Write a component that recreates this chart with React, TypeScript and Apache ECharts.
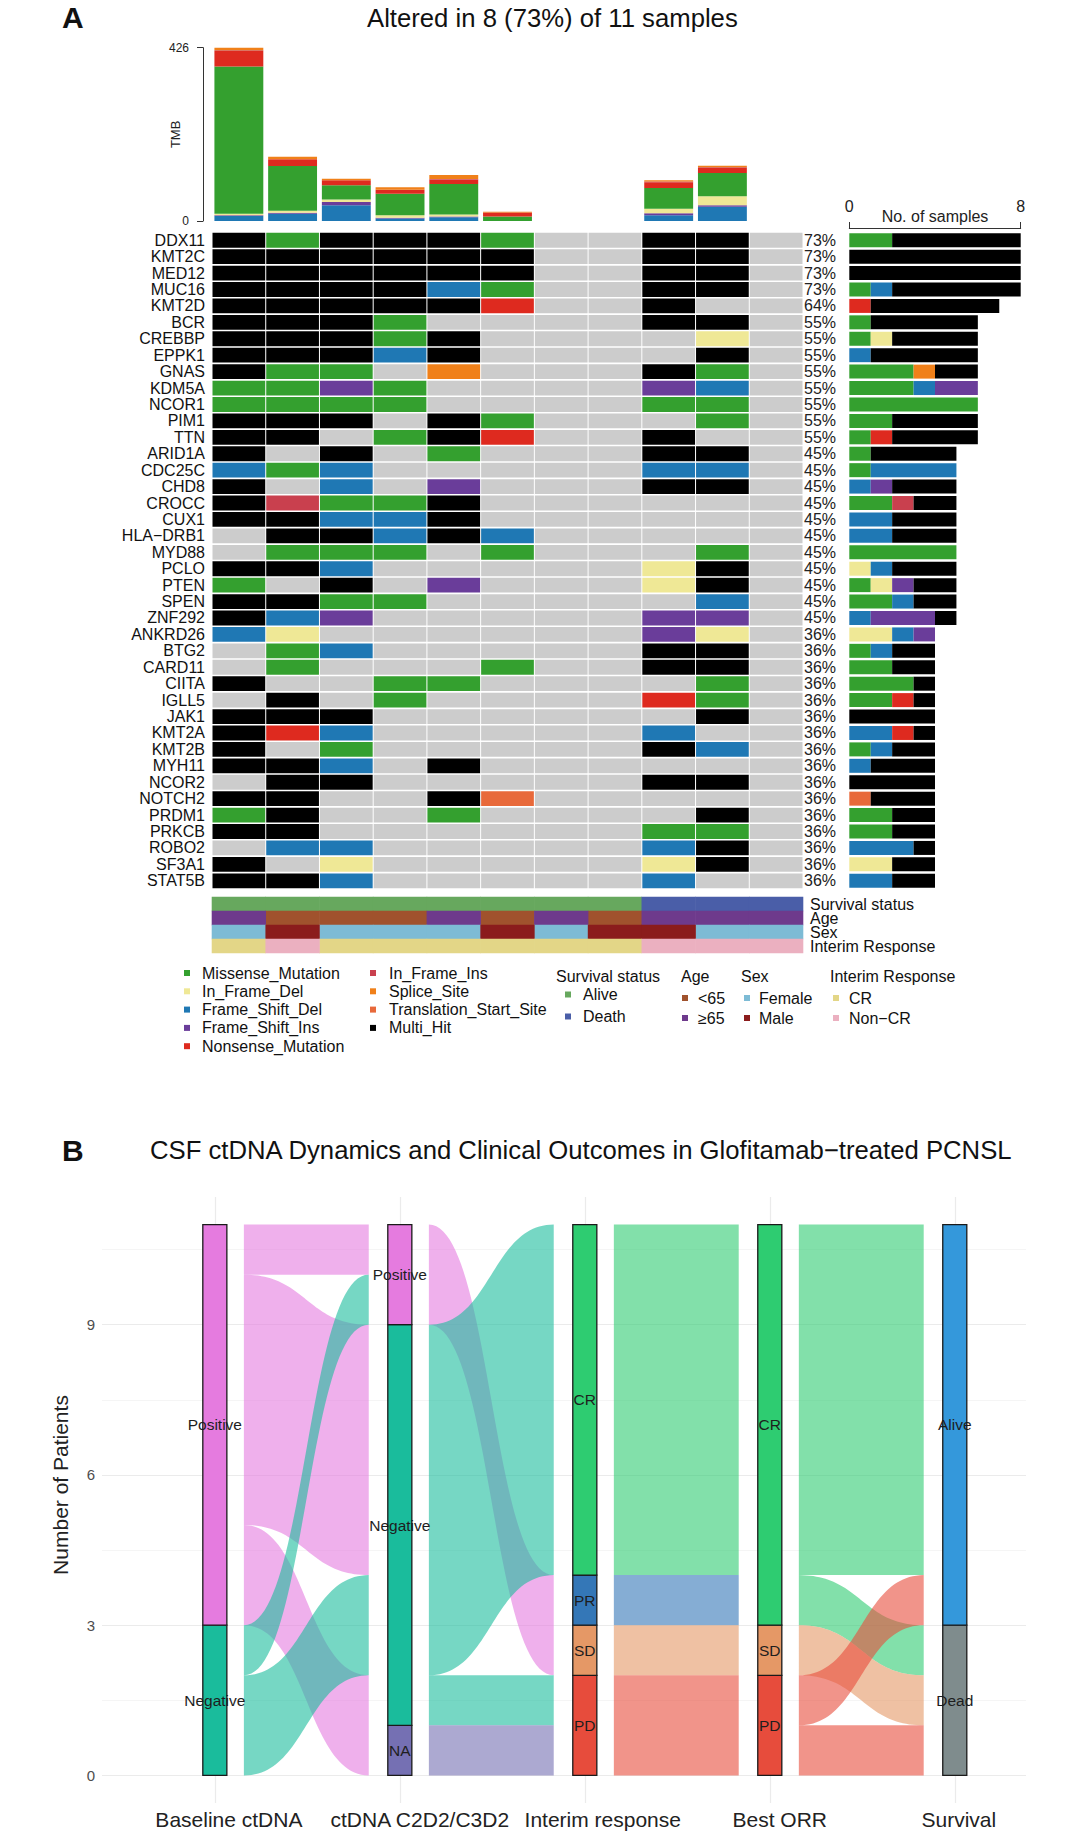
import React, { useEffect, useRef } from "react";
import * as echarts from "echarts";

const FONT = "'Liberation Sans', Arial, Helvetica, sans-serif";

// ---------- Panel A: oncoplot ----------
const sampleIds = ["P01", "P02", "P03", "P04", "P05", "P06", "P07", "P08", "P09", "P10", "P11"];

const mutationTypes = [
  "Missense_Mutation", "In_Frame_Del", "Frame_Shift_Del", "Frame_Shift_Ins", "Nonsense_Mutation",
  "In_Frame_Ins", "Splice_Site", "Translation_Start_Site", "Multi_Hit",
];
const mutationCodes = ["M", "D", "F", "I", "N", "J", "S", "T", "H"];
const mutationColors = [
  "#34A02F", "#EFE896", "#1F78B4", "#6A3D9A", "#DE2A1F", "#C9404E", "#F08019", "#E8693A", "#000000",
];
const noMutationColor = "#CCCCCC";

const genes = [
  "DDX11", "KMT2C", "MED12", "MUC16", "KMT2D", "BCR", "CREBBP", "EPPK1", "GNAS", "KDM5A",
  "NCOR1", "PIM1", "TTN", "ARID1A", "CDC25C", "CHD8", "CROCC", "CUX1", "HLA\u2212DRB1", "MYD88",
  "PCLO", "PTEN", "SPEN", "ZNF292", "ANKRD26", "BTG2", "CARD11", "CIITA", "IGLL5", "JAK1",
  "KMT2A", "KMT2B", "MYH11", "NCOR2", "NOTCH2", "PRDM1", "PRKCB", "ROBO2", "SF3A1", "STAT5B",
];

// one character per sample: M D F I N J S T H (see mutationCodes), "." = wild type
const geneCalls = [
  "HMHHHM..HH.", "HHHHHH..HH.", "HHHHHH..HH.", "HHHHFM..HH.", "HHHHHN..H..",
  "HHHM....HH.", "HHHMH....D.", "HHHFH....H.", "HMM.S...HM.", "MMIM....IF.",
  "MMMM....MM.", "HHH.HM...M.", "HH.MHN..H..", "H.H.M...HH.", "FMF.....FF.",
  "H.F.I...HH.", "HJMMH......", "HHFFH......", ".HHFHF.....", ".MMM.M...M.",
  "HHF.....DH.", "M.H.I...DH.", "HHMM.....F.", "HFI.....II.", "FD......ID.",
  ".MF.....HH.", ".M...M..HH.", "H..MM....M.", ".H.M....NM.", "HHH......H.",
  "HNF.....F..", "H.M.....HF.", "HHF.H......", ".HH.....HH.", "HH..HT.....",
  "MH..M....H.", "HH......MM.", ".FF.....FH.", "H.D.....DH.", "HHF.....F..",
];

// tumour mutational burden per sample, by variant class
const tmbFrameShiftDel = [12, 18, 39, 6, 9, 0, 0, 0, 14, 35, 0];
const tmbFrameShiftIns = [2, 2, 8, 2, 2, 0, 0, 0, 5, 4, 0];
const tmbInFrameDel = [4, 5, 6, 6, 5, 0, 0, 0, 11, 22, 0];
const tmbMissense = [362, 110, 35, 53, 75, 11, 0, 0, 51, 57, 0];
const tmbNonsense = [38, 17, 12, 10, 11, 10, 0, 0, 14, 12, 0];
const tmbInFrameIns = [2, 0, 0, 0, 1, 0, 0, 0, 2, 2, 0];
const tmbSplice = [6, 6, 4, 6, 10, 2, 0, 0, 3, 4, 0];
const tmbTranslationStart = [0, 0, 0, 0, 0, 0, 0, 0, 0, 0, 0];
const tmbMax = 426;

// clinical annotation tracks
const trackNames = ["Survival status", "Age", "Sex", "Interim Response"];
const survivalStatus = ["Alive", "Alive", "Alive", "Alive", "Alive", "Alive", "Alive", "Alive", "Death", "Death", "Death"];
const ageGroup = ["\u226565", "<65", "<65", "<65", "\u226565", "<65", "\u226565", "<65", "\u226565", "\u226565", "\u226565"];
const sexGroup = ["Female", "Male", "Female", "Female", "Female", "Male", "Female", "Male", "Male", "Female", "Female"];
const interimGroup = ["CR", "Non\u2212CR", "CR", "CR", "CR", "CR", "CR", "CR", "Non\u2212CR", "Non\u2212CR", "Non\u2212CR"];
const annotationLevels = [
  { name: "Alive", track: 0, values: survivalStatus, color: "#67A85E" },
  { name: "Death", track: 0, values: survivalStatus, color: "#4A5EA8" },
  { name: "<65", track: 1, values: ageGroup, color: "#A0522D" },
  { name: "\u226565", track: 1, values: ageGroup, color: "#6E3A8C" },
  { name: "Female", track: 2, values: sexGroup, color: "#7DBBD5" },
  { name: "Male", track: 2, values: sexGroup, color: "#8B1C1C" },
  { name: "CR", track: 3, values: interimGroup, color: "#E3D687" },
  { name: "Non\u2212CR", track: 3, values: interimGroup, color: "#EBB0C0" },
];

// ---------- Panel B: alluvial ----------
const alluvialAxisNames = ["Baseline ctDNA", "ctDNA C2D2/C3D2", "Interim response", "Best ORR", "Survival"];
// horizontal nudge of each axis caption (axis units)
const alluvialLabelNudge = [0.076, 0.108, 0.097, 0.054, 0.022];
const alluvialLevels = ["Positive", "Negative", "NA", "CR", "PR", "SD", "PD", "Alive", "Dead"];
const alluvialColors = ["#E57BDF", "#1ABC9C", "#7570B3", "#2ECC71", "#3477B7", "#E59866", "#E74C3C", "#3498DB", "#7F8C8D"];

// strata listed bottom to top: [level, patients]
const strataBaseline: [string, number][] = [["Negative", 3], ["Positive", 8]];
const strataC2D2: [string, number][] = [["NA", 1], ["Negative", 8], ["Positive", 2]];
const strataInterim: [string, number][] = [["PD", 2], ["SD", 1], ["PR", 1], ["CR", 7]];
const strataBestOrr: [string, number][] = [["PD", 2], ["SD", 1], ["CR", 8]];
const strataSurvival: [string, number][] = [["Dead", 3], ["Alive", 8]];
const strataByAxis = [strataBaseline, strataC2D2, strataInterim, strataBestOrr, strataSurvival];

// flows: [colour level, left lower, left upper, right lower, right upper]
const flowsBaselineC2D2: [string, number, number, number, number][] = [
  ["Positive", 10, 11, 10, 11],
  ["Positive", 5, 10, 4, 9],
  ["Positive", 3, 5, 0, 2],
  ["Negative", 2, 3, 9, 10],
  ["Negative", 0, 2, 2, 4],
];
const flowsC2D2Interim: [string, number, number, number, number][] = [
  ["Positive", 9, 11, 2, 4],
  ["Negative", 2, 9, 4, 11],
  ["Negative", 1, 2, 1, 2],
  ["NA", 0, 1, 0, 1],
];
const flowsInterimBestOrr: [string, number, number, number, number][] = [
  ["CR", 4, 11, 4, 11],
  ["PR", 3, 4, 3, 4],
  ["SD", 2, 3, 2, 3],
  ["PD", 0, 2, 0, 2],
];
const flowsBestOrrSurvival: [string, number, number, number, number][] = [
  ["CR", 4, 11, 4, 11],
  ["CR", 3, 4, 2, 3],
  ["SD", 2, 3, 1, 2],
  ["PD", 1, 2, 3, 4],
  ["PD", 0, 1, 0, 1],
];
const flowsBySegment = [flowsBaselineC2D2, flowsC2D2Interim, flowsInterimBestOrr, flowsBestOrrSurvival];

function hexToRgba(hex: string, a: number) {
  const n = parseInt(hex.slice(1), 16);
  return `rgba(${(n >> 16) & 255},${(n >> 8) & 255},${n & 255},${a})`;
}

function buildOption() {
  const nS = sampleIds.length;

  // oncoplot cells
  const oncoCells: number[][] = [];
  genes.forEach((_, gi) => {
    for (let si = 0; si < nS; si++) {
      oncoCells.push([si, gi, mutationCodes.indexOf(geneCalls[gi][si])]);
    }
  });
  const geneTotals = geneCalls.map((row) => row.split("").filter((c) => c !== ".").length);
  const genePct = geneTotals.map((c) => `${Math.round((c / nS) * 100)}%`);
  const altered = sampleIds.filter((_, si) => geneCalls.some((row) => row[si] !== ".")).length;

  const countByType = (code: string) =>
    geneCalls.map((row) => row.split("").filter((c) => c === code).length);

  const tmbStack: [number, number[]][] = [
    [2, tmbFrameShiftDel], [3, tmbFrameShiftIns], [1, tmbInFrameDel], [0, tmbMissense],
    [4, tmbNonsense], [5, tmbInFrameIns], [6, tmbSplice], [7, tmbTranslationStart],
  ];

  // alluvial strata + flows
  const stratumRects: { x: number; lo: number; hi: number; level: string }[] = [];
  strataByAxis.forEach((strata, a) => {
    let cum = 0;
    strata.forEach(([level, n]) => {
      stratumRects.push({ x: a + 1, lo: cum, hi: cum + n, level });
      cum += n;
    });
  });
  const flowList: { level: string; v: number[] }[] = [];
  flowsBySegment.forEach((flows, a) => {
    flows.forEach(([level, l0, l1, r0, r1]) => {
      flowList.push({ level, v: [a + 1 + 0.157, a + 2 - 0.168, l0, l1, r0, r1] });
    });
  });
  const levelColor = (lv: string) => alluvialColors[alluvialLevels.indexOf(lv)];
  const axisLabelPos = alluvialAxisNames.map((_, i) => i + 1 + alluvialLabelNudge[i]);

  const series: any[] = [];

  tmbStack.forEach(([ti, values]) => {
    series.push({
      name: mutationTypes[ti], type: "bar", xAxisIndex: 0, yAxisIndex: 0, stack: "tmb",
      barWidth: "91%", data: values, itemStyle: { color: mutationColors[ti] },
    });
  });

  series.push({
    name: "oncoplot", type: "custom", xAxisIndex: 1, yAxisIndex: 1, data: oncoCells,
    encode: { x: 0, y: 1 },
    renderItem: (params: any, api: any) => {
      const c = api.coord([api.value(0), api.value(1)]);
      const s = api.size([1, 1]);
      const t = api.value(2);
      return {
        type: "rect",
        shape: { x: c[0] - s[0] / 2 + 0.5, y: c[1] - s[1] / 2 + 0.8, width: s[0] - 1, height: s[1] - 1.6 },
        style: { fill: t < 0 ? noMutationColor : mutationColors[t] },
      };
    },
  });

  mutationTypes.forEach((name, ti) => {
    series.push({
      name, type: "bar", xAxisIndex: 2, yAxisIndex: 3, stack: "cnt", barWidth: 14,
      data: countByType(mutationCodes[ti]), itemStyle: { color: mutationColors[ti] },
    });
  });

  annotationLevels.forEach((lv) => {
    const cells: number[][] = [];
    lv.values.forEach((v, si) => { if (v === lv.name) cells.push([si, lv.track]); });
    series.push({
      name: lv.name, type: "custom", xAxisIndex: 3, yAxisIndex: 4, data: cells,
      encode: { x: 0, y: 1 }, itemStyle: { color: lv.color },
      renderItem: (params: any, api: any) => {
        const c = api.coord([api.value(0), api.value(1)]);
        const s = api.size([1, 1]);
        return {
          type: "rect",
          shape: { x: c[0] - s[0] / 2 - 0.3, y: c[1] - s[1] / 2 - 0.2, width: s[0] + 0.6, height: s[1] + 0.4 },
          style: { fill: lv.color },
        };
      },
    });
  });

  series.push({
    name: "flows", type: "custom", xAxisIndex: 4, yAxisIndex: 5, z: 2,
    data: flowList.map((f) => f.v), encode: { x: [0, 1], y: [2, 3, 4, 5] },
    renderItem: (params: any, api: any) => {
      const x0 = api.value(0), x1 = api.value(1);
      const bl = api.coord([x0, api.value(2)]), tl = api.coord([x0, api.value(3)]);
      const br = api.coord([x1, api.value(4)]), tr = api.coord([x1, api.value(5)]);
      const edge = (p: number[], q: number[], t: number) => {
        const mt = 1 - t;
        const dx = q[0] - p[0];
        const c1 = p[0] + dx * 0.5, c2 = q[0] - dx * 0.5;
        return [
          mt * mt * mt * p[0] + 3 * mt * mt * t * c1 + 3 * mt * t * t * c2 + t * t * t * q[0],
          mt * mt * mt * p[1] + 3 * mt * mt * t * p[1] + 3 * mt * t * t * q[1] + t * t * t * q[1],
        ];
      };
      const pts: number[][] = [];
      const N = 48;
      for (let i = 0; i <= N; i++) pts.push(edge(tl, tr, i / N));
      for (let i = N; i >= 0; i--) pts.push(edge(bl, br, i / N));
      return {
        type: "polygon", shape: { points: pts },
        style: { fill: hexToRgba(levelColor(flowList[params.dataIndex].level), 0.6) },
      };
    },
  });

  series.push({
    name: "strata", type: "custom", xAxisIndex: 4, yAxisIndex: 5, z: 3,
    data: stratumRects.map((r) => [r.x, r.lo, r.hi]), encode: { x: 0, y: [1, 2] },
    renderItem: (params: any, api: any) => {
      const r = stratumRects[params.dataIndex];
      const a = api.coord([r.x - 0.065, r.hi]);
      const b = api.coord([r.x + 0.065, r.lo]);
      const m = api.coord([r.x, (r.lo + r.hi) / 2]);
      const shape = { x: a[0], y: a[1], width: b[0] - a[0], height: b[1] - a[1] };
      return {
        type: "group",
        children: [
          { type: "rect", shape, style: { fill: levelColor(r.level) } },
          {
            type: "text",
            style: {
              text: r.level, x: m[0], y: m[1], align: "center", verticalAlign: "middle",
              fontSize: 15.5, fontFamily: FONT, fill: "#1E1E1E",
            },
          },
          // outline drawn last so it runs over the label, as in ggalluvial
          { type: "rect", shape, style: { fill: "none", stroke: "#1A1A1A", lineWidth: 1.3 } },
        ],
      };
    },
  });

  const legendBox = (data: string[], left: number, top: number, gap: number, pad: number) => ({
    data, left, top, orient: "vertical", itemWidth: 6, itemHeight: 6, icon: "rect",
    itemGap: gap, padding: 0, selectedMode: false,
    textStyle: { fontSize: 16, color: "#111", lineHeight: 18, padding: [0, 0, 0, pad], fontFamily: FONT },
  });
  const titleText = (text: string, left: number, top: number, size: number, bold = false) => ({
    text, left, top, padding: 0,
    textStyle: { fontSize: size, fontWeight: bold ? "bold" : "normal", color: "#111", lineHeight: size + 2, fontFamily: FONT },
  });

  const hiddenCat = (gridIndex: number, data: string[], inverse = false) => ({
    type: "category", gridIndex, data, inverse, show: false,
  });

  return {
    animation: false,
    backgroundColor: "#FFFFFF",
    textStyle: { fontFamily: FONT },
    title: [
      titleText("A", 62, 1, 30, true),
      titleText(`Altered in ${altered} (${Math.round((altered / nS) * 100)}%) of ${nS} samples`, 367, 4, 25.7),
      titleText("Survival status", 556, 967, 16),
      titleText("Age", 681, 967, 16),
      titleText("Sex", 741, 967, 16),
      titleText("Interim Response", 830, 967, 16),
      titleText("B", 62, 1134, 30, true),
      titleText("CSF ctDNA Dynamics and Clinical Outcomes in Glofitamab\u2212treated PCNSL", 150, 1136, 25.7),
    ],
    legend: [
      legendBox(mutationTypes.slice(0, 5), 184, 964, 0.3, 7),
      legendBox(mutationTypes.slice(5), 370, 964, 0.3, 8),
      legendBox(["Alive", "Death"], 565, 985.5, 4, 7),
      legendBox(["<65", "\u226565"], 682, 989, 2, 5),
      legendBox(["Female", "Male"], 744, 989, 2, 4),
      legendBox(["CR", "Non\u2212CR"], 833, 989, 2, 5),
    ],
    grid: [
      { left: 212, top: 47.7, width: 591, height: 173.3, outerBoundsMode: "none" },
      { left: 212, top: 232, width: 591, height: 657, outerBoundsMode: "none" },
      { left: 849.3, top: 232, width: 171.4, height: 657, outerBoundsMode: "none" },
      { left: 212, top: 897, width: 591, height: 56, outerBoundsMode: "none" },
      { left: 102, top: 1197, width: 924, height: 606, outerBoundsMode: "none" },
    ],
    xAxis: [
      hiddenCat(0, sampleIds),
      hiddenCat(1, sampleIds),
      {
        type: "value", gridIndex: 2, position: "top", min: 0, max: 8, interval: 8, offset: 4,
        name: "No. of samples", nameLocation: "middle", nameGap: 4, nameMoveOverlap: false,
        nameTextStyle: { fontSize: 16, color: "#222", fontFamily: FONT },
        axisLine: { show: true, lineStyle: { color: "#333", width: 1 } },
        axisTick: { show: true, length: 6, lineStyle: { color: "#333" } },
        axisLabel: { fontSize: 16, color: "#222", margin: 14 },
        splitLine: { show: false },
      },
      hiddenCat(3, sampleIds),
      {
        type: "value", gridIndex: 4, min: 0.39, max: 5.385,
        axisLine: { show: false },
        axisTick: { show: false, customValues: [1, 2, 3, 4, 5] },
        axisLabel: {
          customValues: axisLabelPos, margin: 6, fontSize: 21, color: "#222",
          formatter: (v: number) => alluvialAxisNames[Math.round(v) - 1] ?? "",
        },
        splitLine: { show: true, lineStyle: { color: "#EBEBEB", width: 1.2 } },
      },
    ],
    yAxis: [
      {
        type: "value", gridIndex: 0, min: 0, max: tmbMax, interval: tmbMax, offset: 9,
        name: "TMB", nameLocation: "middle", nameGap: 21, nameMoveOverlap: false,
        nameTextStyle: { fontSize: 13, color: "#222", fontFamily: FONT },
        axisLine: { show: true, lineStyle: { color: "#333", width: 1 } },
        axisTick: { show: true, length: 6, lineStyle: { color: "#333" } },
        axisLabel: { fontSize: 12, color: "#222", margin: 14 },
        splitLine: { show: false },
      },
      {
        type: "category", gridIndex: 1, data: genes, inverse: true, position: "left",
        axisLine: { show: false }, axisTick: { show: false },
        axisLabel: { interval: 0, fontSize: 16, color: "#111", margin: 7 },
      },
      {
        type: "category", gridIndex: 1, data: genes, inverse: true, position: "right",
        axisLine: { show: false }, axisTick: { show: false },
        axisLabel: { interval: 0, fontSize: 16, color: "#222", margin: 1, formatter: (_: string, i: number) => genePct[i] },
      },
      hiddenCat(2, genes, true),
      {
        type: "category", gridIndex: 3, data: trackNames, inverse: true, position: "right",
        axisLine: { show: false }, axisTick: { show: false },
        axisLabel: { interval: 0, fontSize: 16, color: "#111", margin: 7 },
      },
      {
        type: "value", gridIndex: 4, min: -0.55, max: 11.55, position: "left",
        name: "Number of Patients", nameLocation: "middle", nameGap: 31, nameMoveOverlap: false,
        nameTextStyle: { fontSize: 21, color: "#222", fontFamily: FONT, padding: [0, 0, 0, 30] },
        axisLine: { show: false },
        axisTick: { show: false, customValues: [0, 3, 6, 9] },
        axisLabel: { customValues: [0, 3, 6, 9], fontSize: 15, color: "#4D4D4D", margin: 7 },
        splitLine: { show: true, lineStyle: { color: "#EBEBEB", width: 1.2 } },
      },
      {
        type: "value", gridIndex: 4, min: -0.55, max: 11.55, position: "left",
        axisLine: { show: false },
        axisTick: { show: false, customValues: [1.5, 4.5, 7.5, 10.5] },
        axisLabel: { show: false, customValues: [1.5, 4.5, 7.5, 10.5] },
        splitLine: { show: true, lineStyle: { color: "#F3F3F3", width: 0.8 } },
      },
    ],
    series,
  };
}

export default function App() {
  const ref = useRef<HTMLDivElement>(null);
  useEffect(() => {
    document.body.style.margin = "0";
    const chart = echarts.init(ref.current!, null, { renderer: "svg" });
    chart.setOption(buildOption() as any);
    return () => chart.dispose();
  }, []);
  return <div ref={ref} style={{ width: 1080, height: 1840 }} />;
}
